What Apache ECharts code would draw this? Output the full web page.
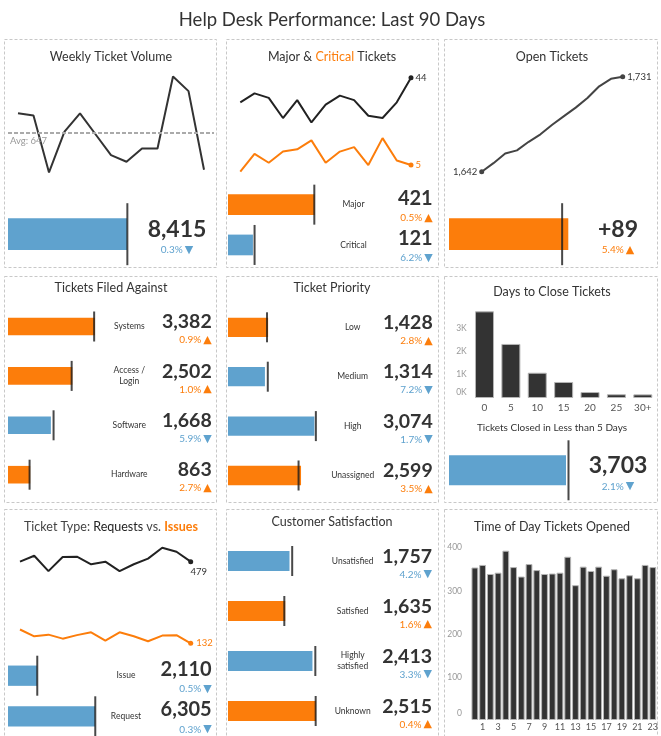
<!DOCTYPE html>
<html><head><meta charset="utf-8">
<script src="https://cdn.jsdelivr.net/npm/echarts@6/dist/echarts.min.js"></script>
<style>html,body{margin:0;padding:0;background:#fff}#c{width:661px;height:736px}</style>
</head><body><div id="c"></div>
<script>
// ---------------- DATA ----------------
const weeklyVolume = [692,687,559,651,692,645,598,583,613,613,775,742,565];
const weeklyTotal = [8415], weeklyPrior = [8440], weeklyPct = [-0.3];

const majorWeekly = [33,37,35,26,34,24,32,36,34,27,26,33,44];
const criticalWeekly = [2,10,6,11,12,16,6,11,13,5,17,7,5];
const severityNames = ['Major','Critical'];
const severityTotals = [421,121];
const severityPrior = [419,129];
const severityPct = [0.5,-6.2];

const openTickets = [1642,1650,1659,1662,1670,1677,1686,1694,1702,1711,1722,1729,1731];
const openChange = [89], openPrior = [84.4], openPct = [5.4];

const filedNames = ['Systems','Access /\nLogin','Software','Hardware'];
const filedTotals = [3382,2502,1668,863];
const filedPrior = [3352,2477,1773,840];
const filedPct = [0.9,1.0,-5.9,2.7];

const priorityNames = ['Low','Medium','High','Unassigned'];
const priorityTotals = [1428,1314,3074,2599];
const priorityPrior = [1389,1416,3127,2511];
const priorityPct = [2.8,-7.2,-1.7,3.5];

const closeBins = ['0','5','10','15','20','25','30+'];
const closeCounts = [3703,2310,1080,685,255,160,155];
const closeTicks = [0,1000,2000,3000,4000];
const closedUnder5 = [3703], closedUnder5Prior = [3782], closedUnder5Pct = [-2.1];

const requestWeekly = [479,504,439,499,500,468,479,439,468,492,538,521,479];
const issueWeekly = [191,162,169,152,167,179,144,179,162,141,165,167,132];
const typeNames = ['Issue','Request'];
const typeTotals = [2110,6305];
const typePrior = [2121,6324];
const typePct = [-0.5,-0.3];

const satisfactionNames = ['Unsatisfied','Satisfied','Highly\nsatisfied','Unknown'];
const satisfactionTotals = [1757,1635,2413,2515];
const satisfactionPrior = [1834,1609,2495,2505];
const satisfactionPct = [-4.2,1.6,-3.3,0.4];

const hours = ['0','1','2','3','4','5','6','7','8','9','10','11','12','13','14','15','16','17','18','19','20','21','22','23'];
const hourCounts = [354,360,339,342,393,355,333,362,348,339,340,342,379,313,356,346,356,335,350,329,336,329,360,355];
const hourTicks = [0,100,200,300,400];

// ---------------- STYLE ----------------
const ORANGE = '#fc7d0b', BLUE = '#5fa2ce', DARK = '#333333', TXT = '#333333';
const FONT = 'Lato, "Noto Sans", sans-serif';

const grids = [], xAxes = [], yAxes = [], series = [], graphics = [];
const fmtInt = v => Number(v).toLocaleString('en-US');

function addGrid(g) { grids.push(Object.assign({outerBoundsMode: 'none', containLabel: false}, g)); return grids.length - 1; }

function sparkGrid(left, top, width, height, xmin, xmax, ymin, ymax) {
  const gi = addGrid({left, top, width, height});
  const xi = xAxes.push({gridIndex: gi, type: 'value', min: xmin, max: xmax, show: false}) - 1;
  const yi = yAxes.push({gridIndex: gi, type: 'value', min: ymin, max: ymax, show: false}) - 1;
  return {xi, yi};
}

function lineSeries(ax, vals, color, ends, extra) {
  ends = ends || {};
  return Object.assign({
    type: 'line', xAxisIndex: ax.xi, yAxisIndex: ax.yi, symbol: 'none', clip: false, silent: true,
    lineStyle: {color, width: 2}, itemStyle: {color},
    data: vals.map((v, i) => {
      const item = {value: [i, v]};
      if (ends[i]) {
        item.symbol = 'circle'; item.symbolSize = 5;
        item.label = Object.assign({show: true, formatter: p => fmtInt(p.value[1]), fontFamily: FONT, fontSize: 9.5, color: ends[i].color || TXT}, ends[i].label);
      }
      return item;
    })
  }, extra || {});
}

function pctRich(p) {
  const up = p >= 0;
  return (up ? '{po|' : '{pb|') + Math.abs(p).toFixed(1) + '%}' + (up ? '{to|▲}' : '{tb|▼}');
}

function bullet(c) {
  const n = c.totals.length;
  const gi = addGrid({left: c.left, top: c.top, width: c.areaW, height: n * c.rowH});
  const xi = xAxes.push({gridIndex: gi, type: 'value', min: 0, max: c.areaW / c.px, show: false}) - 1;
  const cats = c.totals.map((_, i) => c.names ? c.names[i] : String(i));
  const right = c.left + c.areaW;
  const common = {gridIndex: gi, type: 'category', data: cats, inverse: true, position: 'right',
    axisLine: {show: false, onZero: false}, axisTick: {show: false}, splitLine: {show: false}};
  const yName = yAxes.push(Object.assign({}, common, {
    axisLabel: {show: !!c.names, interval: 0, margin: (c.nameX || 0) - right, align: 'center',
      fontSize: 8.5, lineHeight: 11, color: TXT, fontFamily: FONT}
  })) - 1;
  const al = c.numAlign || 'right';
  const fmt = c.fmt || fmtInt;
  yAxes.push(Object.assign({}, common, {
    axisLabel: {interval: 0, margin: c.numX - right, align: al, padding: [c.pad || 0, 0, 0, 0],
      formatter: (v, i) => '{n|' + fmt(c.totals[i]) + '}\n' + pctRich(c.pct[i]),
      rich: {
        n: {fontSize: c.numSize, fontWeight: 'bold', color: TXT, fontFamily: FONT, lineHeight: c.numLH, align: al},
        po: {fontSize: 10, color: ORANGE, fontFamily: FONT, lineHeight: c.pLH, align: al},
        pb: {fontSize: 10, color: BLUE, fontFamily: FONT, lineHeight: c.pLH, align: al},
        to: {fontSize: 11, color: ORANGE, fontFamily: 'DejaVu Sans', lineHeight: c.pLH, align: al, padding: [0, 0, 0, 2]},
        tb: {fontSize: 11, color: BLUE, fontFamily: 'DejaVu Sans', lineHeight: c.pLH, align: al, padding: [0, 0, 0, 2]}
      }}
  }));
  series.push({type: 'bar', xAxisIndex: xi, yAxisIndex: yName, barWidth: c.barH, silent: true,
    data: c.totals.map((v, i) => ({value: v, itemStyle: {color: c.pct[i] >= 0 ? ORANGE : BLUE}}))});
  series.push({type: 'scatter', xAxisIndex: xi, yAxisIndex: yName, symbol: 'rect', symbolSize: [2, c.refH], silent: true, z: 5,
    itemStyle: {color: '#1a1a1a'}, data: c.prior.map((v, i) => [v, i])});
}

function text(x, y, t, size, color, extra) {
  graphics.push({type: 'text', x, y, silent: true,
    style: Object.assign({text: t, fontSize: size, fontFamily: FONT, fill: color, align: 'center', verticalAlign: 'middle'}, extra || {})});
}

// ---------------- PANELS (frames + titles) ----------------
const cols = [[4, 216], [226, 438], [444, 657]];
const rows = [[39, 267], [276, 502], [509, 745]];
rows.forEach(r => cols.forEach(cc => graphics.push({type: 'rect', silent: true,
  shape: {x: cc[0] + 0.5, y: r[0] + 0.5, width: cc[1] - cc[0], height: r[1] - r[0]},
  style: {fill: 'none', stroke: '#c8c8c8', lineWidth: 1, lineDash: [3, 2]}})));

const TS = 12.5;
text(332, 20, 'Help Desk Performance: Last 90 Days', 18.5, TXT);
text(111, 57, 'Weekly Ticket Volume', TS, TXT);
text(332, 57, '{a|Major & }{b|Critical}{a| Tickets}', TS, TXT, {rich: {
  a: {fontSize: TS, fontFamily: FONT, fill: TXT}, b: {fontSize: TS, fontFamily: FONT, fill: ORANGE}}});
text(552, 57, 'Open Tickets', TS, TXT);
text(111, 288, 'Tickets Filed Against', TS, TXT);
text(332, 288, 'Ticket Priority', TS, TXT);
text(552, 292, 'Days to Close Tickets', TS, TXT);
text(552, 428, 'Tickets Closed in Less than 5 Days', 10, TXT);
text(111, 527, '{a|Ticket Type: }{c|Requests}{a| vs. }{b|Issues}', TS, TXT, {rich: {
  a: {fontSize: TS, fontFamily: FONT, fill: '#444'}, c: {fontSize: TS, fontFamily: FONT, fill: '#222'},
  b: {fontSize: TS, fontFamily: FONT, fill: ORANGE, fontWeight: 'bold'}}});
text(332, 522, 'Customer Satisfaction', TS, TXT);
text(552, 527, 'Time of Day Tickets Opened', TS, TXT);

// ---------------- Weekly Ticket Volume ----------------
const ax1 = sparkGrid(8, 60.9, 206, 120, -0.645, 12.645, 540, 810);
const weeklyAvg = weeklyVolume.reduce((a, b) => a + b, 0) / weeklyVolume.length;
series.push(lineSeries(ax1, weeklyVolume, '#333', null, {
  markLine: {silent: true, symbol: 'none', animation: false,
    lineStyle: {color: '#aaa', type: [4, 2], width: 2},
    label: {position: 'insideStartBottom', formatter: 'Avg: ' + Math.round(weeklyAvg), color: '#999', fontSize: 9.5, fontFamily: FONT, distance: [2, 3]},
    data: [{yAxis: weeklyAvg}]}
}));
bullet({left: 8, top: 234.2 - 31, rowH: 62, areaW: 125, px: 119 / 8415, totals: weeklyTotal, prior: weeklyPrior, pct: weeklyPct,
  barH: 31.7, refH: 62, numX: 177, numAlign: 'center', numSize: 23, numLH: 26, pLH: 16, pad: 6});

// ---------------- Major & Critical ----------------
const ax2 = sparkGrid(240.3, 64.3, 170.7, 111.9, 0, 12, 0, 50);
series.push(lineSeries(ax2, majorWeekly, '#222', {12: {label: {position: 'right', distance: 2}}}));
series.push(lineSeries(ax2, criticalWeekly, ORANGE, {12: {color: ORANGE, label: {position: 'right', distance: 2}}}));
bullet({left: 228, top: 184.5, rowH: 40.3, areaW: 100, px: 0.206, names: severityNames, totals: severityTotals, prior: severityPrior, pct: severityPct,
  barH: 20.7, refH: 40, nameX: 353.5, numX: 432.7, numSize: 20, numLH: 24, pLH: 15, pad: 2});

// ---------------- Open Tickets ----------------
const ax3 = sparkGrid(481.7, 56.4, 141, 128.1, 0, 12, 1630, 1750);
series.push(lineSeries(ax3, openTickets, '#444', {
  0: {label: {position: 'left', distance: 2}},
  12: {label: {position: 'right', distance: 2}}}));
bullet({left: 449, top: 234.2 - 31, rowH: 62, areaW: 125, px: 119.3 / 89, totals: openChange, prior: openPrior, pct: openPct,
  barH: 31.7, refH: 62, numX: 618, numAlign: 'center', numSize: 23, numLH: 26, pLH: 16, pad: 6, fmt: v => '+' + v});

// ---------------- Tickets Filed Against ----------------
bullet({left: 8, top: 301.8, rowH: 49.4, areaW: 100, px: 0.0257, names: filedNames, totals: filedTotals, prior: filedPrior, pct: filedPct,
  barH: 17.6, refH: 30, nameX: 129.3, numX: 211.7, numSize: 19.5, numLH: 22, pLH: 14, pad: 5});

// ---------------- Ticket Priority ----------------
bullet({left: 228, top: 302.6, rowH: 49.4, areaW: 100, px: 0.0281, names: priorityNames, totals: priorityTotals, prior: priorityPrior, pct: priorityPct,
  barH: 19.3, refH: 30, nameX: 352.7, numX: 432.7, numSize: 19.5, numLH: 22, pLH: 14, pad: 5});

// ---------------- Days to Close ----------------
const g6 = addGrid({left: 471.3, top: 304.4, width: 184.7, height: 93.6});
xAxes.push({gridIndex: g6, type: 'category', data: closeBins, axisLine: {show: false}, axisTick: {show: false},
  axisLabel: {margin: 5, fontSize: 10, color: '#555', fontFamily: FONT, interval: 0}});
yAxes.push({gridIndex: g6, type: 'value', min: closeTicks[0], max: closeTicks[closeTicks.length - 1], interval: 1000,
  splitLine: {show: false}, axisLine: {show: false}, axisTick: {show: false},
  axisLabel: {margin: 4.6, fontSize: 8.5, color: '#999', fontFamily: FONT, showMaxLabel: false,
    formatter: v => v === 0 ? '{z|0K}' : (v >= 4000 ? '' : (v / 1000) + 'K'),
    rich: {z: {fontSize: 8.5, color: '#999', fontFamily: FONT, padding: [0, 0, 11, 0]}}}});
series.push({type: 'bar', xAxisIndex: xAxes.length - 1, yAxisIndex: yAxes.length - 1, barWidth: 19, silent: true,
  itemStyle: {color: '#333', borderColor: '#b5b5b5', borderWidth: 1}, data: closeCounts});
bullet({left: 449, top: 470.3 - 30, rowH: 60, areaW: 125, px: 117 / 3703, totals: closedUnder5, prior: closedUnder5Prior, pct: closedUnder5Pct,
  barH: 30, refH: 60, numX: 618, numAlign: 'center', numSize: 23, numLH: 26, pLH: 16, pad: 6});

// ---------------- Ticket Type ----------------
const ax7 = sparkGrid(20, 542.6, 170.7, 108.3, 0, 12, 100, 560);
series.push(lineSeries(ax7, requestWeekly, '#222', {12: {label: {position: 'bottom', distance: 3, offset: [8, 0]}}}));
series.push(lineSeries(ax7, issueWeekly, ORANGE, {12: {color: ORANGE, label: {position: 'right', distance: 3}}}));
bullet({left: 8, top: 655.4, rowH: 40.6, areaW: 100, px: 0.0138, names: typeNames, totals: typeTotals, prior: typePrior, pct: typePct,
  barH: 20.3, refH: 40, nameX: 126, numX: 211.7, numSize: 20, numLH: 24, pLH: 15, pad: 2});

// ---------------- Customer Satisfaction ----------------
bullet({left: 228, top: 536, rowH: 50, areaW: 100, px: 0.035, names: satisfactionNames, totals: satisfactionTotals, prior: satisfactionPrior, pct: satisfactionPct,
  barH: 20, refH: 30, nameX: 352.7, numX: 432, numSize: 19.5, numLH: 22, pLH: 14, pad: 5});

// ---------------- Time of Day ----------------
const g9 = addGrid({left: 471, top: 547.7, width: 185.7, height: 172.3});
xAxes.push({gridIndex: g9, type: 'category', data: hours, axisLine: {show: false}, axisTick: {show: false},
  axisLabel: {margin: 3, fontSize: 9, color: '#555', fontFamily: FONT, interval: i => i % 2 === 1}});
yAxes.push({gridIndex: g9, type: 'value', min: hourTicks[0], max: hourTicks[hourTicks.length - 1], interval: 100,
  splitLine: {show: false}, axisLine: {show: false}, axisTick: {show: false},
  axisLabel: {margin: 9, fontSize: 8.5, color: '#999', fontFamily: FONT,
    formatter: v => v === 0 ? '{z|0}' : String(v),
    rich: {z: {fontSize: 8.5, color: '#999', fontFamily: FONT, padding: [0, 0, 13, 0]}}}});
series.push({type: 'bar', xAxisIndex: xAxes.length - 1, yAxisIndex: yAxes.length - 1, barWidth: 6.8, silent: true,
  itemStyle: {color: '#333', borderColor: '#b5b5b5', borderWidth: 1}, data: hourCounts});

const chart = echarts.init(document.getElementById('c'), null, {renderer: 'canvas'});
chart.setOption({animation: false, backgroundColor: '#fff', grid: grids, xAxis: xAxes, yAxis: yAxes, series, graphic: graphics});
</script>
</body></html>
